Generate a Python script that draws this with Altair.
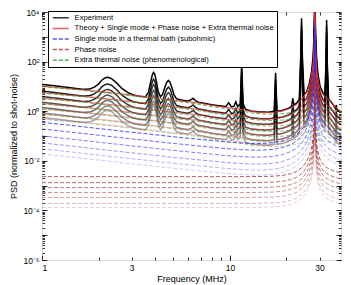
import altair as alt
import pandas as pd

# ---------------- data ----------------
FAMILIES = [
    "Experiment",
    "Theory + Single mode + Phase noise + Extra thermal noise",
    "Single mode in a thermal bath (subohmic)",
    "Phase noise",
    "Extra thermal noise (phenomenological)",
]

# measured spectra: frequency grid (MHz) and log10 PSD of the top trace
freq_exp = [1.0, 1.15, 1.3, 1.5, 1.66, 1.8, 1.9, 2.0, 2.08, 2.16, 2.24, 2.35, 2.5, 2.65, 2.85,
            3.05, 3.3, 3.55, 3.68, 3.78, 3.86, 3.92, 3.98, 4.06, 4.15, 4.27, 4.38, 4.5, 4.6,
            4.7, 4.8, 4.92, 5.05, 5.2, 5.6, 6.0, 6.2, 6.38, 6.55, 6.8, 7.3, 8.0, 8.8, 9.5,
            9.85, 10.2, 10.5, 10.75, 11.0, 11.35, 11.55, 11.75, 12.1, 13.0, 14.5, 16.0, 17.2,
            17.5, 17.8, 19.0, 20.5, 21.3, 21.6, 21.9, 22.6, 23.4, 23.8, 24.05, 24.3, 24.8,
            25.6, 26.5, 27.2, 27.7, 28.0, 28.3, 28.6, 28.9, 29.4, 30.2, 31.2, 32.0, 32.45,
            32.7, 32.95, 33.5, 34.5, 35.5, 36.5, 36.8, 37.1, 38.0, 39.0]
exp_top = [1.08, 1.03, 0.98, 0.92, 0.88, 0.90, 0.97, 1.10, 1.25, 1.34, 1.37, 1.31, 1.13, 0.93,
           0.76, 0.66, 0.60, 0.58, 0.75, 1.15, 1.45, 1.56, 1.50, 1.20, 0.80, 0.58, 0.68, 0.95,
           1.15, 1.24, 1.17, 0.93, 0.65, 0.50, 0.44, 0.41, 0.46, 0.52, 0.43, 0.36, 0.32, 0.26,
           0.22, 0.19, 0.34, 0.17, 0.20, 0.38, 0.18, 0.30, 1.92, 0.30, 0.08, 0.00, -0.03,
           -0.04, 0.00, 1.55, 0.00, 0.03, 0.12, 0.20, 0.52, 0.25, 0.32, 0.48, 2.20, 3.75, 2.20,
           0.68, 0.78, 1.15, 1.60, 2.20, 3.00, 4.60, 3.00, 2.20, 1.50, 1.00, 0.75, 0.65, 2.00,
           3.68, 2.00, 0.48, 0.38, 0.25, 0.10, 0.25, 0.06, 0.00, -0.05]
exp_offsets = [0.0, -0.27, -0.49, -0.72, -0.93, -1.15, -1.33]

# model curves: frequency grid (MHz)
freq_model = [1.0, 1.3, 1.66, 2.0, 2.5, 3.0, 3.5, 4.0, 5.0, 6.0, 7.0, 8.0, 9.0, 10.0, 11.5,
              13.0, 15.0, 17.0, 19.0, 21.0, 22.5, 24.0, 25.0, 26.0, 26.8, 27.4, 27.8, 28.05,
              28.2, 28.3, 28.4, 28.55, 28.8, 29.2, 29.8, 30.6, 31.6, 33.0, 34.5, 36.0, 37.5,
              39.0]
theory_top = [1.01, 0.93, 0.86, 0.80, 0.72, 0.65, 0.59, 0.53, 0.44, 0.38, 0.32, 0.24, 0.18,
              0.13, 0.07, -0.01, -0.05, -0.05, 0.01, 0.12, 0.26, 0.46, 0.64, 0.90, 1.22, 1.62,
              2.05, 2.65, 3.35, 4.30, 3.35, 2.65, 1.95, 1.45, 1.05, 0.76, 0.64, 0.50, 0.36,
              0.20, 0.08, 0.00]
theory_offsets = [0.0, -0.26, -0.48, -0.70, -0.91, -1.12, -1.31]
extra_top = [0.99, 0.91, 0.84, 0.77, 0.69, 0.62, 0.56, 0.50, 0.41, 0.34, 0.27, 0.19, 0.13,
             0.08, 0.01, -0.07, -0.11, -0.12, -0.10, -0.06, -0.02, 0.02, 0.05, 0.08, 0.11,
             0.13, 0.14, 0.15, 0.15, 0.15, 0.15, 0.15, 0.15, 0.15, 0.14, 0.13, 0.11, 0.08,
             0.05, 0.02, -0.01, -0.04]
extra_offsets = [0.0, -0.26, -0.48, -0.70, -0.91, -1.12, -1.31]
bath_shape = [0.0, -0.09, -0.18, -0.25, -0.33, -0.40, -0.45, -0.50, -0.58, -0.64, -0.69, -0.73,
              -0.77, -0.80, -0.83, -0.85, -0.85, -0.82, -0.75, -0.63, -0.50, -0.30, -0.12,
              0.12, 0.45, 0.85, 1.30, 1.90, 2.70, 4.00, 2.70, 1.90, 1.25, 0.80, 0.45, 0.15,
              -0.02, -0.18, -0.28, -0.36, -0.42, -0.47]
bath_levels = [-0.45, -0.72, -1.00, -1.28, -1.52, -1.72]
phase_shape = [0.0, 0.0, 0.0, 0.0, 0.0, 0.0, 0.0, 0.0, 0.0, 0.0, 0.0, 0.0, 0.0, 0.0, 0.0, 0.0,
               0.01, 0.02, 0.05, 0.12, 0.20, 0.35, 0.50, 0.72, 1.00, 1.30, 1.70, 2.20, 2.90,
               4.20, 2.90, 2.20, 1.60, 1.10, 0.80, 0.60, 0.45, 0.35, 0.28, 0.22, 0.18, 0.15]
phase_levels = [-2.64, -2.88, -3.08, -3.28, -3.48, -3.72, -3.88]

x_labels = [1, 3, 10, 30]


def family_table(freqs, shape, shifts, fam):
    rows = []
    for i, s in enumerate(shifts):
        for f, v in zip(freqs, shape):
            rows.append({"f": f, "psd": 10 ** (v + s), "curve": f"{fam[:6]}{i}",
                         "level": i, "family": fam})
    return pd.DataFrame(rows)


df_exp = family_table(freq_exp, exp_top, exp_offsets, FAMILIES[0])
df_th = family_table(freq_model, theory_top, theory_offsets, FAMILIES[1])
df_bath = family_table(freq_model, bath_shape, bath_levels, FAMILIES[2])
df_ph = family_table(freq_model, phase_shape, phase_levels, FAMILIES[3])
df_ex = family_table(freq_model, extra_top, extra_offsets, FAMILIES[4])

# ---------------- chart ----------------
W, H = 299, 248
FONT = "Liberation Sans"
xs = alt.Scale(type="log", domain=[1, 39], nice=False)
ys = alt.Scale(type="log", domain=[1e-6, 1e4], nice=False)

x_minor = [2, 3, 4, 5, 6, 7, 8, 9, 10, 20, 30]
y_minor = [k * 10.0 ** d for d in range(-6, 4) for k in range(1, 10)]
y_major = [10.0 ** d for d in range(-6, 5)]
y_labels = [10.0 ** d for d in range(-6, 5, 2)]

lab = ("round(log(datum.value)/LN10)==-6?'10⁻⁶':round(log(datum.value)/LN10)==-4?'10⁻⁴':"
       "round(log(datum.value)/LN10)==-2?'10⁻²':round(log(datum.value)/LN10)==0?'10⁰':"
       "round(log(datum.value)/LN10)==2?'10²':'10⁴'")

legend = alt.Legend(orient="none", legendX=6, legendY=-1, direction="vertical",
                    symbolType="M-4,0H4", symbolSize=16, symbolStrokeWidth=1.5,
                    symbolOffset=6, symbolOpacity=0.8, labelFont=FONT, labelFontSize=7.6,
                    labelColor="black", labelLimit=400, padding=3, rowPadding=1.6,
                    labelOffset=10, strokeColor="black", fillColor="white", title=None)
color = alt.Color("family:N", title=None, legend=legend,
                  scale=alt.Scale(domain=FAMILIES,
                                  range=["#000000", "#e8353a", "#2b2bff", "#a33a3a", "#2ca02c"]))
dash = alt.StrokeDash("family:N", title=None, legend=legend,
                      scale=alt.Scale(domain=FAMILIES,
                                      range=[[1, 0], [1, 0], [4, 2], [4, 2], [4, 2]]))


def tick_axis(orient, values, size, offset):
    return alt.Axis(orient=orient, values=values, labels=False, domain=False, grid=False,
                    ticks=True, tickSize=size, tickColor="black", tickWidth=0.8,
                    offset=offset, title=None)


def layer(df, sw, op_range, nlev, xaxis, yaxis):
    return alt.Chart(df).mark_line(strokeWidth=sw, clip=True).encode(
        x=alt.X("f:Q", scale=xs, axis=xaxis),
        y=alt.Y("psd:Q", scale=ys, axis=yaxis),
        color=color,
        strokeDash=dash,
        opacity=alt.Opacity("level:Q", legend=None,
                            scale=alt.Scale(domain=[0, nlev - 1], range=op_range)),
        detail="curve:N",
    )


x_main = alt.Axis(orient="bottom", values=x_labels, format="d", ticks=False, tickSize=0,
                  domain=False, grid=False, labelFont=FONT, labelFontSize=8.5,
                  labelPadding=3, labelColor="black", title="Frequency (MHz)",
                  titleFont=FONT, titleFontSize=9, titleFontWeight="normal",
                  titlePadding=3, titleColor="black")
y_main = alt.Axis(orient="left", values=y_labels, labelExpr=lab, ticks=False, tickSize=0,
                  domain=False, grid=False, labelFont=FONT, labelFontSize=8.5,
                  labelPadding=3, labelColor="black",
                  title="PSD (normalized to shot-noise)", titleFont=FONT, titleFontSize=9,
                  titleFontWeight="normal", titlePadding=4, titleColor="black")

l_exp = layer(df_exp, 1.5, [1.0, 0.35], len(exp_offsets), x_main, y_main)
l_th = layer(df_th, 1.1, [0.85, 0.3], len(theory_offsets),
             tick_axis("top", x_minor, 3, -H), tick_axis("right", y_minor, 2.5, -W))
l_ex = layer(df_ex, 1.0, [0.8, 0.4], len(extra_offsets),
             tick_axis("bottom", x_minor, 3, -H), tick_axis("left", y_minor, 2.5, -W))
l_bath = layer(df_bath, 1.0, [0.85, 0.25], len(bath_levels),
               tick_axis("top", [1, 10], 5, -H), tick_axis("right", y_major, 5, -W))
l_ph = layer(df_ph, 1.0, [0.85, 0.25], len(phase_levels),
             tick_axis("bottom", [1, 10], 5, -H), tick_axis("left", y_major, 5, -W))

chart = alt.layer(l_exp, l_th, l_ex, l_bath, l_ph).resolve_axis(
    x="independent", y="independent"
).resolve_scale(opacity="independent").properties(
    width=W, height=H,
    autosize=alt.AutoSizeParams(type="none"),
    padding={"left": 34, "top": 4, "right": 2, "bottom": 25},
).configure_view(stroke="black", strokeWidth=1).configure(background="white")

chart.save("out.html", embed_options={"renderer": "svg", "actions": False})
